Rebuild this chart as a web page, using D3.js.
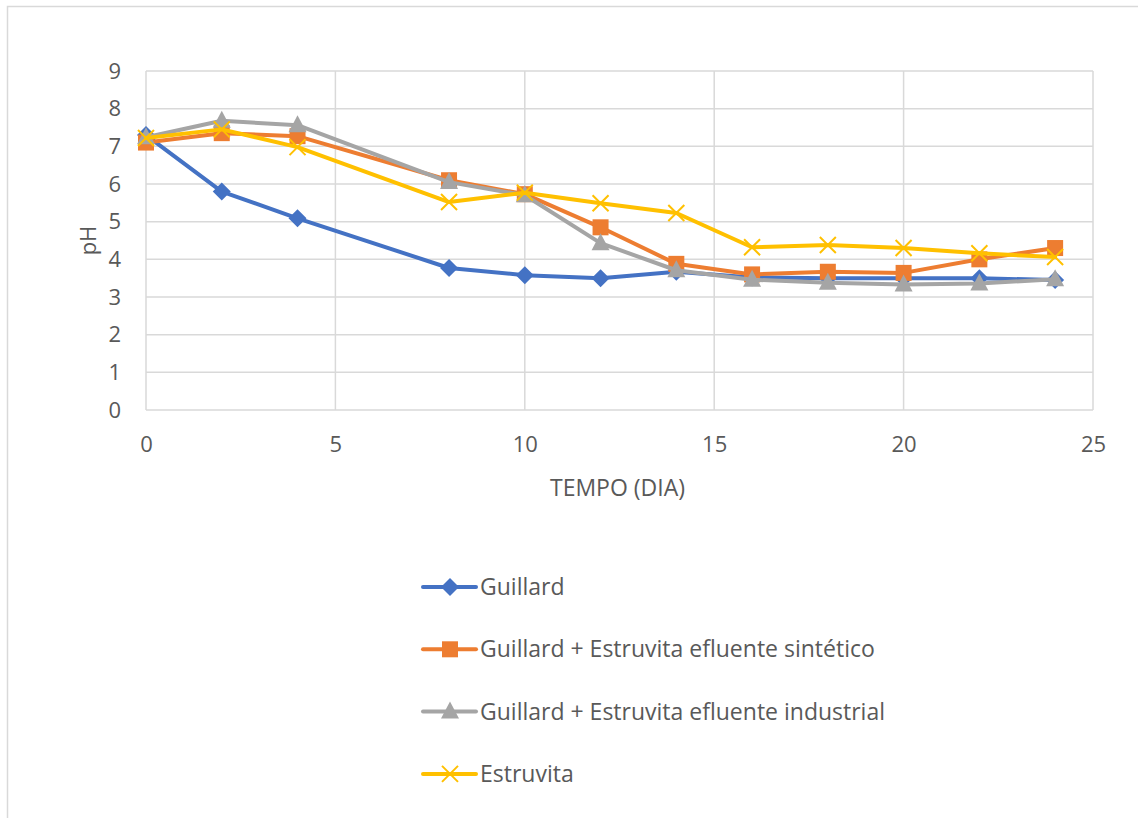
<!DOCTYPE html>
<html>
<head>
<meta charset="utf-8">
<script src="https://cdn.jsdelivr.net/npm/d3@7"></script>
<style>
  body { margin: 0; background: #fff; }
  text { font-family: "Open Sans", sans-serif; fill: #595959; }
</style>
</head>
<body>
<div id="chart"></div>
<script>
// days sampled
var days = [0, 2, 4, 8, 10, 12, 14, 16, 18, 20, 22, 24];

// pH per series
var guillard   = [7.3, 5.8, 5.09, 3.77, 3.58, 3.5, 3.67, 3.52, 3.5, 3.5, 3.5, 3.45];
var sintetico  = [7.1, 7.35, 7.27, 6.1, 5.73, 4.85, 3.88, 3.6, 3.67, 3.64, 4.0, 4.3];
var industrial = [7.24, 7.68, 7.56, 6.05, 5.7, 4.43, 3.71, 3.46, 3.38, 3.33, 3.36, 3.47];
var estruvita  = [7.22, 7.45, 6.98, 5.52, 5.77, 5.49, 5.23, 4.32, 4.38, 4.3, 4.16, 4.06];

var seriesNames = ["Guillard", "Guillard + Estruvita efluente sintético",
    "Guillard + Estruvita efluente industrial", "Estruvita"];
var xTicks = [0, 5, 10, 15, 20, 25];
var yTicks = [0, 1, 2, 3, 4, 5, 6, 7, 8, 9];

var colors = ["#4472C4", "#ED7D31", "#A5A5A5", "#FFC000"];
var shapes = ["diamond", "square", "triangle", "x"];
var allSeries = [guillard, sintetico, industrial, estruvita];

var W = 1138, H = 818;
var margin = { top: 71, right: 45, bottom: 408, left: 146 };
var width = W - margin.left - margin.right,
    height = H - margin.top - margin.bottom;

var svg = d3.select("#chart").append("svg")
    .attr("width", W)
    .attr("height", H);

// outer chart frame (runs off the right/bottom edges)
svg.append("rect")
    .attr("x", 7.5).attr("y", 6.5)
    .attr("width", W + 10).attr("height", H + 10)
    .attr("fill", "none")
    .attr("stroke", "#D9D9D9")
    .attr("stroke-width", 1.5);

var g = svg.append("g")
    .attr("transform", "translate(" + margin.left + "," + margin.top + ")");

var x = d3.scaleLinear().domain([0, 25]).range([0, width]);
var y = d3.scaleLinear().domain([0, 9]).range([height, 0]);

// grid
g.append("g").selectAll("line").data(yTicks).enter().append("line")
    .attr("x1", 0).attr("x2", width)
    .attr("y1", function(d) { return y(d); })
    .attr("y2", function(d) { return y(d); })
    .attr("stroke", "#D9D9D9").attr("stroke-width", 1.5);

g.append("g").selectAll("line").data(xTicks).enter().append("line")
    .attr("y1", 0).attr("y2", height)
    .attr("x1", function(d) { return x(d); })
    .attr("x2", function(d) { return x(d); })
    .attr("stroke", "#D9D9D9").attr("stroke-width", 1.5);

// axes (labels only)
var xAxis = d3.axisBottom(x).tickValues(xTicks).tickSize(0).tickPadding(26);
var yAxis = d3.axisLeft(y).tickValues(yTicks).tickSize(0).tickPadding(25);

g.append("g")
    .attr("transform", "translate(0," + height + ")")
    .call(xAxis)
    .call(function(a) { a.select(".domain").remove(); })
    .selectAll("text")
    .style("font-size", "22px")
    .style("font-family", "Open Sans, sans-serif")
    .attr("fill", "#595959");

g.append("g")
    .call(yAxis)
    .call(function(a) { a.select(".domain").remove(); })
    .selectAll("text")
    .style("font-size", "22px")
    .style("font-family", "Open Sans, sans-serif")
    .attr("fill", "#595959");

// axis titles
g.append("text")
    .attr("x", width / 2 - 2)
    .attr("y", height + 86)
    .attr("text-anchor", "middle")
    .style("font-size", "23px")
    .text("TEMPO (DIA)");

g.append("text")
    .attr("transform", "translate(" + (-50) + "," + (height / 2) + ") rotate(-90)")
    .attr("text-anchor", "middle")
    .style("font-size", "22px")
    .text("pH");

function drawMarker(sel, shape, color) {
    if (shape === "diamond") {
        sel.append("path").attr("d", "M0,-9L9,0L0,9L-9,0Z").attr("fill", color);
    } else if (shape === "square") {
        sel.append("rect").attr("x", -8).attr("y", -8)
            .attr("width", 16).attr("height", 16).attr("fill", color);
    } else if (shape === "triangle") {
        sel.append("path").attr("d", "M0,-10L9,7L-9,7Z").attr("fill", color);
    } else {
        sel.append("path").attr("d", "M-8,-8L8,8M-8,8L8,-8")
            .attr("stroke", color).attr("stroke-width", 2).attr("fill", "none");
    }
}

var line = d3.line()
    .x(function(d) { return x(d[0]); })
    .y(function(d) { return y(d[1]); });

allSeries.forEach(function(vals, i) {
    var pts = days.map(function(d, j) { return [d, vals[j]]; });
    var sg = g.append("g").attr("class", "series");
    sg.append("path")
        .datum(pts)
        .attr("d", line)
        .attr("fill", "none")
        .attr("stroke", colors[i])
        .attr("stroke-width", 4)
        .attr("stroke-linejoin", "round")
        .attr("stroke-linecap", "round");
    sg.selectAll(".m").data(pts).enter().append("g")
        .attr("class", "m")
        .attr("transform", function(d) { return "translate(" + x(d[0]) + "," + y(d[1]) + ")"; })
        .each(function() { drawMarker(d3.select(this), shapes[i], colors[i]); });
});

// legend
var legend = svg.append("g").attr("transform", "translate(423,587)");
seriesNames.forEach(function(name, i) {
    var row = legend.append("g").attr("transform", "translate(0," + (i * 62.3) + ")");
    row.append("line")
        .attr("x1", 0).attr("x2", 53)
        .attr("stroke", colors[i]).attr("stroke-width", 4)
        .attr("stroke-linecap", "round");
    drawMarker(row.append("g").attr("transform", "translate(27,0)"), shapes[i], colors[i]);
    row.append("text")
        .attr("x", 57)
        .attr("dy", "0.35em")
        .style("font-size", "23px")
        .text(name);
});
</script>
</body>
</html>
